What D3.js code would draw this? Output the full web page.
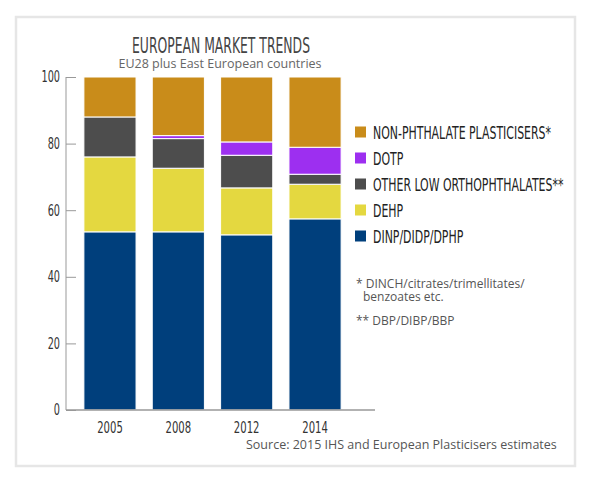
<!DOCTYPE html>
<html>
<head>
<meta charset="utf-8">
<script src="https://cdn.jsdelivr.net/npm/d3@7"></script>
<style>
  body { margin: 0; background: #fff; }
  svg { display: block; }
</style>
</head>
<body>
<svg id="chart"></svg>
<script>
// Tendencias del mercado europeo de plastificantes (%)
const svg_w = 589;
const svg_h = 480;

const years = ["2005", "2008", "2012", "2014"];
// series de abajo hacia arriba
const series = ["DINP/DIDP/DPHP", "DEHP", "OTHER LOW ORTHOPHTHALATES**", "DOTP", "NON-PHTHALATE PLASTICISERS*"];
const dinp = [53.5, 53.5, 52.6, 57.4];
const dehp = [22.5, 19.1, 14.1, 10.4];
const other_low = [12.0, 8.9, 9.8, 3.0];
const dotp = [0.0, 0.9, 4.0, 8.1];
const non_phthalate = [12.0, 17.6, 19.5, 21.1];
const y_ticks = [0, 20, 40, 60, 80, 100];
const colors = ["#003f7c", "#e4d840", "#4d4d4d", "#9d2ff0", "#c98c1a"];

const footnotes = ["* DINCH/citrates/trimellitates/", "benzoates etc.", "** DBP/DIBP/BBP"];

const values = [dinp, dehp, other_low, dotp, non_phthalate];
const table = years.map((y, i) => {
  let row = {year: y};
  series.forEach((s, j) => row[s] = values[j][i]);
  return row;
});

const narrow = "'DejaVu Sans Condensed', 'DejaVu Sans', sans-serif";
const sans = "'Open Sans', 'Noto Sans', sans-serif";

// estrecha los textos para imitar la tipografía condensada del original
function condense(sel, ratio) {
  sel.each(function() {
    let w = this.getComputedTextLength();
    d3.select(this)
      .attr("textLength", w * ratio)
      .attr("lengthAdjust", "spacingAndGlyphs");
  });
}

let svg = d3.select("#chart")
  .attr("width", svg_w)
  .attr("height", svg_h);

// marco
svg.append("rect")
  .attr("x", 16).attr("y", 17)
  .attr("width", 559).attr("height", 449)
  .attr("fill", "none")
  .attr("stroke", "#e6e6e6")
  .attr("stroke-width", 2.5);

let x_scale = d3.scaleBand()
  .domain(years)
  .range([75, 350])
  .paddingInner(0.237)
  .paddingOuter(0.13);

let y_scale = d3.scaleLinear()
  .domain([0, 100])
  .range([410, 77]);

let stacked = d3.stack().keys(series)(table);

svg.append("g")
  .selectAll("g")
  .data(stacked)
  .enter().append("g")
  .attr("fill", (d, i) => colors[i])
  .selectAll("rect")
  .data(d => d.filter(p => p[1] - p[0] > 0))
  .enter().append("rect")
  .attr("x", d => x_scale(d.data.year))
  .attr("width", x_scale.bandwidth())
  .attr("y", d => y_scale(d[1]))
  .attr("height", d => y_scale(d[0]) - y_scale(d[1]))
  .attr("stroke", "#fff")
  .attr("stroke-width", 1);

// eje y con marcas hacia dentro
let y_axis = svg.append("g")
  .attr("transform", "translate(66,0)")
  .call(d3.axisRight(y_scale).tickValues(y_ticks).tickSize(10).tickFormat(d3.format("d")));
y_axis.select(".domain").remove();
y_axis.selectAll("line").attr("stroke", "#999");
y_axis.selectAll("text")
  .attr("x", -6)
  .attr("text-anchor", "end")
  .attr("font-family", narrow)
  .attr("font-size", 15)
  .attr("fill", "#333")
  .call(condense, 0.72);

svg.append("line")
  .attr("x1", 66).attr("x2", 66)
  .attr("y1", y_scale(100)).attr("y2", y_scale(0))
  .attr("stroke", "#999");
svg.append("line")
  .attr("x1", 66).attr("x2", 375)
  .attr("y1", y_scale(0)).attr("y2", y_scale(0))
  .attr("stroke", "#999").attr("stroke-width", 1.5);

// eje x
let x_axis = svg.append("g")
  .attr("transform", `translate(0,${y_scale(0)})`)
  .call(d3.axisBottom(x_scale).tickSize(0).tickPadding(12));
x_axis.select(".domain").remove();
x_axis.selectAll("text")
  .attr("font-family", narrow)
  .attr("font-size", 16)
  .attr("fill", "#333")
  .call(condense, 0.7);

// títulos
svg.append("text")
  .attr("x", 221).attr("y", 53)
  .attr("text-anchor", "middle")
  .attr("font-family", narrow)
  .attr("font-size", 21)
  .attr("textLength", 178)
  .attr("lengthAdjust", "spacingAndGlyphs")
  .attr("fill", "#444")
  .text("EUROPEAN MARKET TRENDS");

svg.append("text")
  .attr("x", 220).attr("y", 68)
  .attr("text-anchor", "middle")
  .attr("font-family", sans)
  .attr("font-size", 12.5)
  .attr("fill", "#666")
  .text("EU28 plus East European countries");

// leyenda
let legend = svg.append("g")
  .selectAll("g")
  .data(series.slice().reverse())
  .enter().append("g")
  .attr("transform", (d, i) => `translate(355,${132 + i * 26})`);

legend.append("rect")
  .attr("x", 0).attr("y", -5.5)
  .attr("width", 11).attr("height", 11)
  .attr("fill", d => colors[series.indexOf(d)]);

let legend_text = legend.append("text")
  .attr("x", 18).attr("y", 6.5)
  .attr("font-family", narrow)
  .attr("font-size", 17.5)
  .attr("fill", "#222")
  .text(d => d);

// la primera etiqueta mide 178px en el original
let first_w = legend_text.node().getComputedTextLength();
legend_text.call(condense, 178 / first_w);

// notas
svg.append("g")
  .selectAll("text")
  .data(footnotes)
  .enter().append("text")
  .attr("x", (d, i) => i == 1 ? 363 : 356)
  .attr("y", (d, i) => [288, 301, 325][i])
  .attr("font-family", sans)
  .attr("font-size", 12)
  .attr("fill", "#555")
  .text(d => d);

svg.append("text")
  .attr("x", 246).attr("y", 449)
  .attr("font-family", sans)
  .attr("font-size", 12.5)
  .attr("fill", "#555")
  .text("Source: 2015 IHS and European Plasticisers estimates");
</script>
</body>
</html>
